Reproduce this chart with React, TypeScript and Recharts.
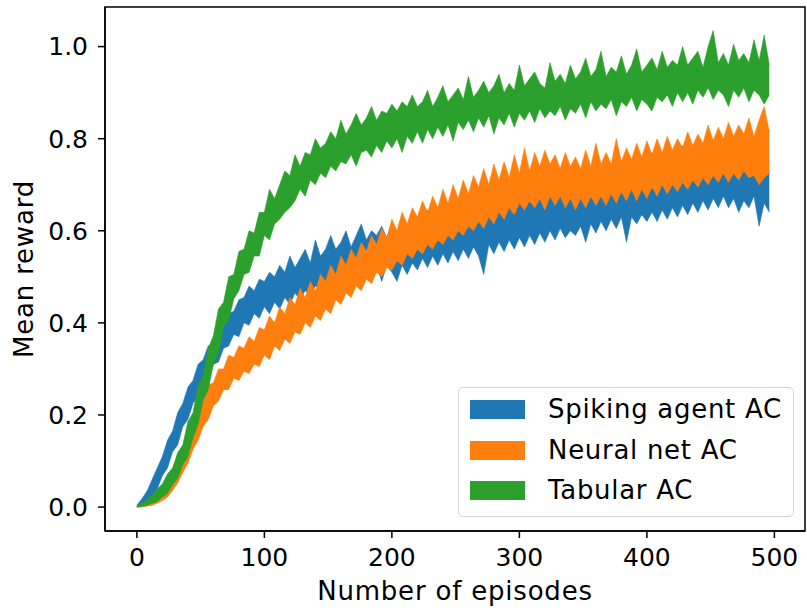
import React from "react";
import { ComposedChart, Area, XAxis, YAxis, Legend, ReferenceArea } from "recharts";

const episodes = [
  0, 4, 8, 12, 16, 20, 24, 28, 32, 36, 40, 44, 48, 52, 56, 60, 64, 68, 72, 76, 80, 84, 88, 92, 96,
  100, 104, 108, 112, 116, 120, 124, 128, 132, 136, 140, 144, 148, 152, 156, 160, 164, 168, 172, 176, 180, 184, 188, 192, 196,
  200, 204, 208, 212, 216, 220, 224, 228, 232, 236, 240, 244, 248, 252, 256, 260, 264, 268, 272, 276, 280, 284, 288, 292, 296,
  300, 304, 308, 312, 316, 320, 324, 328, 332, 336, 340, 344, 348, 352, 356, 360, 364, 368, 372, 376, 380, 384, 388, 392, 396,
  400, 404, 408, 412, 416, 420, 424, 428, 432, 436, 440, 444, 448, 452, 456, 460, 464, 468, 472, 476, 480, 484, 488, 492, 496,
];

const spikingLo = [
  0.0, 0.003, 0.01, 0.025, 0.04, 0.068, 0.085, 0.12, 0.135, 0.175, 0.19, 0.225, 0.24, 0.275, 0.285, 0.31, 0.315, 0.345, 0.35, 0.375, 0.37, 0.4, 0.395, 0.42, 0.41,
  0.435, 0.42, 0.445, 0.43, 0.455, 0.44, 0.465, 0.45, 0.47, 0.46, 0.48, 0.47, 0.49, 0.475, 0.5, 0.485, 0.505, 0.49, 0.515, 0.495, 0.52, 0.5, 0.525, 0.49, 0.525,
  0.51, 0.49, 0.525, 0.505, 0.53, 0.515, 0.54, 0.52, 0.545, 0.525, 0.55, 0.53, 0.555, 0.535, 0.56, 0.54, 0.565, 0.545, 0.505, 0.57, 0.55, 0.575, 0.555, 0.58, 0.56,
  0.585, 0.565, 0.59, 0.57, 0.595, 0.575, 0.6, 0.58, 0.605, 0.585, 0.6, 0.59, 0.61, 0.575, 0.615, 0.595, 0.62, 0.6, 0.625, 0.605, 0.63, 0.575, 0.63, 0.615, 0.635,
  0.62, 0.64, 0.62, 0.645, 0.625, 0.65, 0.63, 0.655, 0.635, 0.66, 0.64, 0.665, 0.645, 0.67, 0.65, 0.675, 0.65, 0.67, 0.64, 0.665, 0.65, 0.675, 0.61, 0.66, 0.64,
];
const spikingHi = [
  0.004, 0.018, 0.035, 0.06, 0.085, 0.11, 0.145, 0.165, 0.205, 0.225, 0.26, 0.275, 0.31, 0.32, 0.35, 0.355, 0.385, 0.39, 0.42, 0.425, 0.45, 0.455, 0.48, 0.47, 0.495,
  0.49, 0.51, 0.5, 0.525, 0.51, 0.545, 0.52, 0.54, 0.56, 0.53, 0.58, 0.545, 0.56, 0.59, 0.56, 0.575, 0.6, 0.565, 0.59, 0.615, 0.58, 0.6, 0.59, 0.61, 0.585,
  0.615, 0.59, 0.62, 0.58, 0.635, 0.6, 0.62, 0.645, 0.61, 0.63, 0.655, 0.615, 0.64, 0.665, 0.625, 0.645, 0.675, 0.63, 0.615, 0.66, 0.69, 0.645, 0.665, 0.7, 0.65,
  0.675, 0.71, 0.66, 0.69, 0.715, 0.665, 0.695, 0.725, 0.675, 0.7, 0.73, 0.68, 0.705, 0.69, 0.735, 0.69, 0.715, 0.745, 0.7, 0.72, 0.75, 0.705, 0.73, 0.76, 0.715,
  0.74, 0.77, 0.72, 0.75, 0.775, 0.73, 0.755, 0.785, 0.735, 0.765, 0.79, 0.745, 0.77, 0.8, 0.75, 0.78, 0.805, 0.755, 0.77, 0.8, 0.745, 0.79, 0.73, 0.805, 0.725,
];

const neuralLo = [
  0.0, 0.0, 0.002, 0.004, 0.008, 0.014, 0.022, 0.036, 0.052, 0.075, 0.095, 0.125, 0.145, 0.175, 0.19, 0.22, 0.23, 0.255, 0.255, 0.28, 0.275, 0.295, 0.29, 0.31, 0.305,
  0.33, 0.32, 0.35, 0.34, 0.365, 0.355, 0.38, 0.375, 0.4, 0.39, 0.415, 0.405, 0.43, 0.42, 0.45, 0.44, 0.465, 0.455, 0.48, 0.47, 0.495, 0.485, 0.51, 0.5, 0.52,
  0.515, 0.535, 0.525, 0.55, 0.54, 0.56, 0.55, 0.57, 0.56, 0.58, 0.57, 0.59, 0.58, 0.6, 0.59, 0.61, 0.6, 0.62, 0.605, 0.63, 0.615, 0.64, 0.625, 0.65, 0.635,
  0.66, 0.645, 0.665, 0.65, 0.67, 0.645, 0.675, 0.655, 0.675, 0.65, 0.67, 0.645, 0.67, 0.65, 0.675, 0.655, 0.675, 0.655, 0.68, 0.66, 0.685, 0.665, 0.69, 0.665, 0.69,
  0.67, 0.695, 0.675, 0.7, 0.68, 0.7, 0.685, 0.705, 0.69, 0.71, 0.695, 0.715, 0.7, 0.72, 0.705, 0.725, 0.705, 0.725, 0.71, 0.73, 0.715, 0.72, 0.7, 0.715, 0.725,
];
const neuralHi = [
  0.002, 0.004, 0.008, 0.014, 0.024, 0.036, 0.054, 0.075, 0.1, 0.122, 0.158, 0.175, 0.215, 0.23, 0.265, 0.27, 0.3, 0.3, 0.33, 0.325, 0.35, 0.345, 0.37, 0.36, 0.39,
  0.385, 0.415, 0.4, 0.435, 0.42, 0.455, 0.44, 0.475, 0.455, 0.49, 0.47, 0.505, 0.49, 0.525, 0.505, 0.545, 0.525, 0.56, 0.54, 0.575, 0.555, 0.59, 0.57, 0.605, 0.585,
  0.625, 0.6, 0.64, 0.615, 0.65, 0.63, 0.665, 0.64, 0.675, 0.65, 0.69, 0.66, 0.7, 0.67, 0.71, 0.68, 0.72, 0.695, 0.735, 0.7, 0.745, 0.71, 0.75, 0.715, 0.765,
  0.725, 0.78, 0.73, 0.77, 0.74, 0.775, 0.745, 0.765, 0.735, 0.77, 0.74, 0.76, 0.735, 0.775, 0.74, 0.79, 0.745, 0.77, 0.745, 0.8, 0.75, 0.78, 0.755, 0.79, 0.76,
  0.795, 0.765, 0.8, 0.77, 0.805, 0.775, 0.8, 0.78, 0.815, 0.785, 0.81, 0.79, 0.83, 0.795, 0.825, 0.8, 0.835, 0.805, 0.83, 0.81, 0.845, 0.805, 0.84, 0.87, 0.815,
];

const tabularLo = [
  0.0, 0.001, 0.004, 0.008, 0.012, 0.022, 0.03, 0.048, 0.062, 0.092, 0.11, 0.15, 0.18, 0.232, 0.255, 0.31, 0.335, 0.392, 0.405, 0.452, 0.47, 0.505, 0.51, 0.545, 0.545,
  0.59, 0.58, 0.615, 0.625, 0.64, 0.65, 0.665, 0.69, 0.675, 0.71, 0.7, 0.725, 0.715, 0.74, 0.73, 0.75, 0.745, 0.765, 0.74, 0.77, 0.775, 0.76, 0.785, 0.77, 0.795,
  0.78, 0.8, 0.77, 0.805, 0.79, 0.815, 0.79, 0.82, 0.8, 0.825, 0.805, 0.83, 0.795, 0.835, 0.82, 0.84, 0.815, 0.845, 0.825, 0.85, 0.81, 0.845, 0.83, 0.855, 0.825,
  0.855, 0.84, 0.86, 0.835, 0.865, 0.845, 0.86, 0.85, 0.87, 0.84, 0.865, 0.855, 0.875, 0.845, 0.88, 0.86, 0.875, 0.865, 0.885, 0.85, 0.88, 0.87, 0.89, 0.86, 0.885,
  0.875, 0.86, 0.89, 0.88, 0.895, 0.87, 0.9, 0.88, 0.9, 0.875, 0.905, 0.89, 0.91, 0.885, 0.905, 0.895, 0.87, 0.905, 0.89, 0.91, 0.88, 0.905, 0.895, 0.875, 0.895,
];
const tabularHi = [
  0.003, 0.008, 0.016, 0.026, 0.04, 0.05, 0.072, 0.085, 0.118, 0.135, 0.185, 0.205, 0.262, 0.285, 0.345, 0.372, 0.43, 0.445, 0.5, 0.505, 0.555, 0.56, 0.6, 0.595, 0.64,
  0.64, 0.69, 0.67, 0.7, 0.73, 0.72, 0.765, 0.74, 0.77, 0.765, 0.8, 0.78, 0.79, 0.815, 0.8, 0.84, 0.81, 0.83, 0.855, 0.83, 0.845, 0.87, 0.84, 0.86, 0.855,
  0.875, 0.86, 0.88, 0.87, 0.895, 0.87, 0.88, 0.905, 0.87, 0.89, 0.915, 0.88, 0.895, 0.91, 0.885, 0.935, 0.89, 0.905, 0.925, 0.9, 0.915, 0.94, 0.9, 0.92, 0.905,
  0.96, 0.915, 0.93, 0.945, 0.92, 0.91, 0.965, 0.925, 0.94, 0.92, 0.96, 0.93, 0.945, 0.975, 0.935, 0.95, 0.99, 0.935, 0.955, 0.945, 0.98, 0.94, 0.96, 0.995, 0.945,
  0.96, 0.975, 0.95, 0.99, 0.955, 0.97, 0.96, 1.0, 0.96, 0.975, 0.99, 0.955, 1.0, 1.035, 0.965, 0.985, 0.96, 1.005, 0.97, 0.985, 0.965, 1.015, 0.97, 1.025, 0.96,
];

const xTicks = [0, 100, 200, 300, 400, 500];
const yTicks = [0, 0.2, 0.4, 0.6, 0.8, 1.0];
const xDomain = [-25, 524];
const yDomain = [-0.052, 1.086];

const seriesNames = ["Spiking agent AC", "Neural net AC", "Tabular AC"];
const seriesKeys = ["spiking", "neural", "tabular"];
const seriesColors = ["#1f77b4", "#ff7f0e", "#2ca02c"];

const data = episodes.map((x, i) => ({
  x,
  spiking: [spikingLo[i], spikingHi[i]],
  neural: [neuralLo[i], neuralHi[i]],
  tabular: [tabularLo[i], tabularHi[i]],
}));

const FONT = "DejaVu Sans";

const renderLegend = () => {
  return (
    <div
      style={{
        position: "relative",
        width: 336,
        height: 130,
        boxSizing: "border-box",
        border: "1.5px solid #d6d6d6",
        borderRadius: 5,
        background: "rgba(255,255,255,0.8)",
        fontFamily: FONT,
      }}
    >
      {seriesNames.map((name, i) => (
        <div
          key={name}
          style={{
            position: "absolute",
            left: 11,
            top: 12 + i * 40.5,
            height: 19,
            display: "flex",
            alignItems: "center",
            whiteSpace: "nowrap",
          }}
        >
          <div style={{ width: 55, height: 19, background: seriesColors[i] }} />
          <span
            style={{
              marginLeft: 23,
              fontSize: 26,
              lineHeight: "19px",
              letterSpacing: "0.7px",
              color: "#000",
            }}
          >
            {name}
          </span>
        </div>
      ))}
    </div>
  );
};

const YLabel = (props: any) => {
  const vb = props.viewBox || { x: 0, y: 7, width: 105, height: 524 };
  const x = vb.x + 33;
  const y = vb.y + vb.height / 2;
  return (
    <text
      x={x}
      y={y}
      transform={`rotate(-90, ${x}, ${y})`}
      textAnchor="middle"
      fontFamily={FONT}
      fontSize={26}
      letterSpacing={0.8}
      fill="#000"
    >
      Mean reward
    </text>
  );
};

const XLabel = (props: any) => {
  const vb = props.viewBox || { x: 105, y: 531, width: 700, height: 79 };
  const x = vb.x + vb.width / 2;
  const y = vb.y + 69;
  return (
    <text x={x} y={y} textAnchor="middle" fontFamily={FONT} fontSize={26} letterSpacing={0.8} fill="#000">
      Number of episodes
    </text>
  );
};

export default function App() {
  return (
    <div style={{ position: "absolute", left: 0, top: 0, width: 807, height: 610, background: "#fff" }}>
      <ComposedChart
        width={807}
        height={610}
        data={data}
        margin={{ top: 7, right: 2, bottom: 0, left: 0 }}
      >
        <XAxis
          dataKey="x"
          type="number"
          domain={xDomain}
          ticks={xTicks}
          allowDataOverflow
          height={79}
          tickSize={7}
          tickMargin={10}
          axisLine={{ stroke: "#000", strokeWidth: 1.5 }}
          tickLine={{ stroke: "#000", strokeWidth: 1.5 }}
          tick={{ fontFamily: FONT, fontSize: 25, fill: "#000" }}
          label={{ content: XLabel }}
        />
        <YAxis
          type="number"
          domain={yDomain}
          ticks={yTicks}
          allowDataOverflow
          width={105}
          tickSize={7}
          tickMargin={10}
          tickFormatter={(v: number) => v.toFixed(1)}
          axisLine={{ stroke: "#000", strokeWidth: 1.5 }}
          tickLine={{ stroke: "#000", strokeWidth: 1.5 }}
          tick={{ fontFamily: FONT, fontSize: 25, fill: "#000" }}
          label={{ content: YLabel }}
        />
        {seriesKeys.map((k, i) => (
          <Area
            key={k}
            dataKey={k}
            name={seriesNames[i]}
            type="linear"
            fill={seriesColors[i]}
            fillOpacity={1}
            stroke={seriesColors[i]}
            strokeWidth={0.6}
            dot={false}
            activeDot={false}
            isAnimationActive={false}
          />
        ))}
        <ReferenceArea
          x1={xDomain[0]}
          x2={xDomain[1]}
          y1={yDomain[0]}
          y2={yDomain[1]}
          fill="none"
          fillOpacity={0}
          stroke="#000"
          strokeWidth={1.5}
          ifOverflow="visible"
        />
        <Legend
          layout="vertical"
          align="center"
          verticalAlign="middle"
          content={renderLegend}
          wrapperStyle={{ left: 458, top: 387, width: 336, height: 130, margin: 0 }}
        />
      </ComposedChart>
    </div>
  );
}
